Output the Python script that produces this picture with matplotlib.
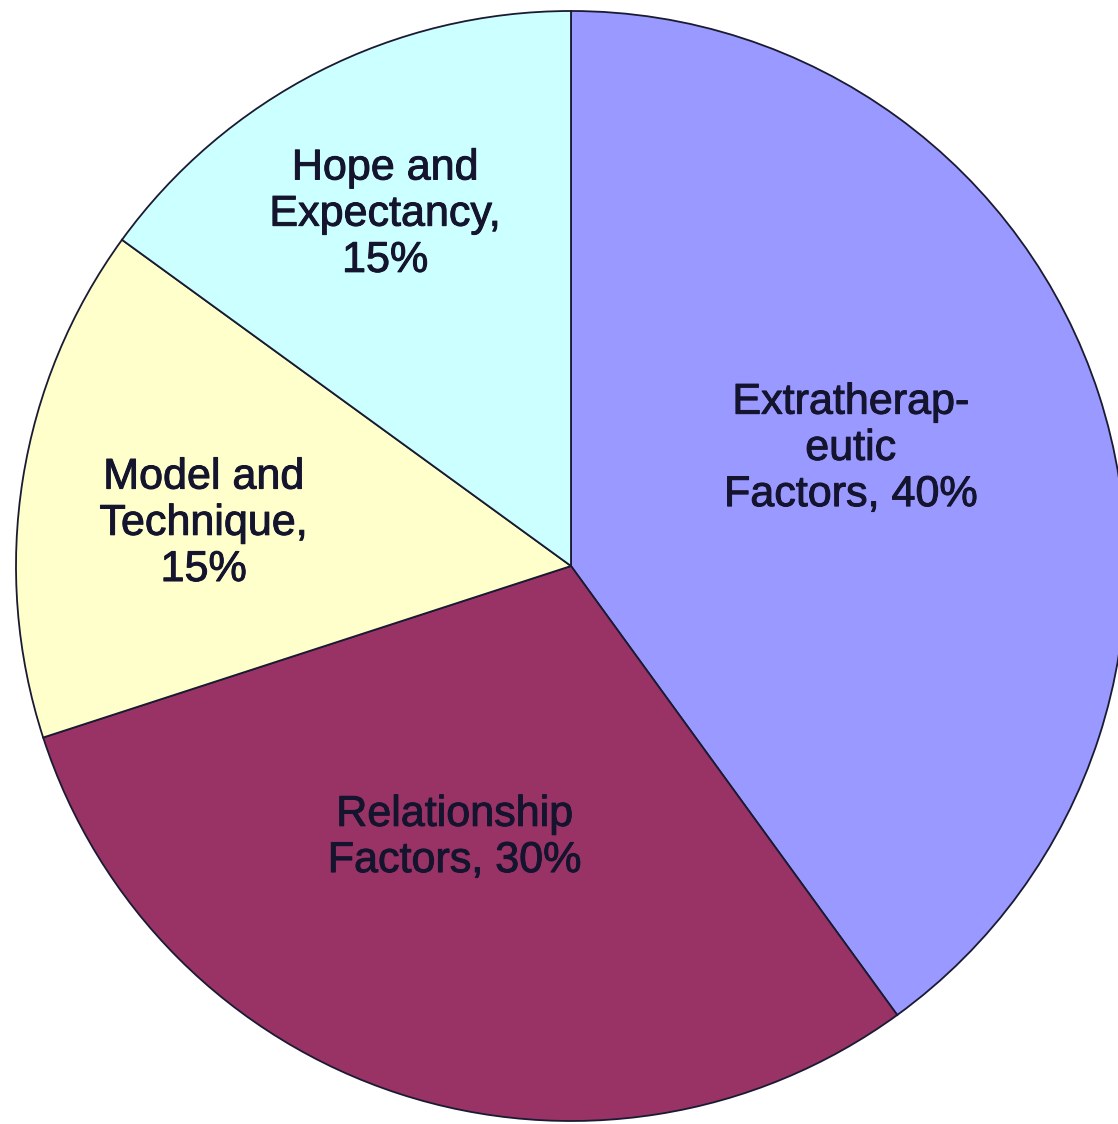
import matplotlib.pyplot as plt
import matplotlib.patheffects as pe

labels = ['Extratherap-\neutic\nFactors, 40%', 'Relationship\nFactors, 30%',
          'Model and\nTechnique,\n15%', 'Hope and\nExpectancy,\n15%']
shares = [40, 30, 15, 15]
colors = ['#9999FF', '#993366', '#FFFFCC', '#CCFFFF']
# label centres in axis units (pie radius = 1)
label_xy = [(0.504, 0.211), (-0.210, -0.490), (-0.662, 0.076), (-0.335, 0.633)]

plt.rcParams['font.family'] = ['Liberation Sans', 'DejaVu Sans']

fig = plt.figure(figsize=(11.18, 11.24), dpi=100)
ax = fig.add_axes([16 / 1118, (1124 - 566 - 555) / 1124, 1110 / 1118, 1110 / 1124])

ax.pie(shares, colors=colors, startangle=90, counterclock=False,
       wedgeprops=dict(edgecolor='#1a1a33', linewidth=1.3))

for (x, y), txt in zip(label_xy, labels):
    ax.text(x, y, txt, ha='center', va='center', fontsize=31,
            color='#14142e', linespacing=1.2,
            path_effects=[pe.withStroke(linewidth=0.7, foreground='#14142e')])

ax.set_xlim(-1, 1)
ax.set_ylim(-1, 1)
ax.set_aspect('equal')
ax.axis('off')

fig.savefig('out.png', dpi=100)
